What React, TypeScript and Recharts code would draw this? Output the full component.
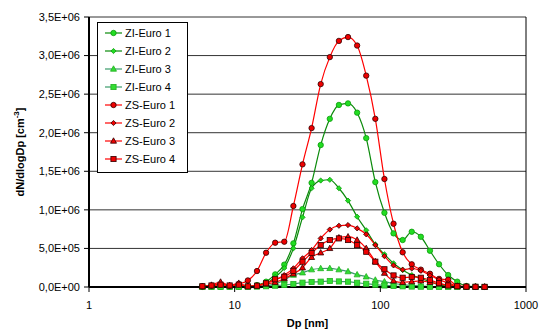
import React from "react";
import {
  LineChart,
  Line,
  XAxis,
  YAxis,
  CartesianGrid,
  Legend,
  ReferenceLine,
} from "recharts";

// particle diameter channels (nm), 16 per decade
const diameters = [
  6.0, 6.93, 8.0, 9.24, 10.67, 12.32, 14.23, 16.43, 18.97, 21.91, 25.3, 29.22,
  33.74, 38.96, 44.99, 51.96, 60.0, 69.29, 80.01, 92.39, 106.7, 123.2, 142.3,
  164.3, 189.7, 219.1, 253.0, 292.2, 337.4, 389.6, 449.9, 519.6,
];

const ziEuro1 = [
  2000, 3000, 3000, 4000, 5000, 8000, 25000, 69000, 164000, 290000, 566000,
  1010000, 1350000, 1840000, 2180000, 2360000, 2380000, 2260000, 1930000,
  1360000, 962000, 695000, 609000, 716000, 651000, 470000, 295000, 155000,
  69000, 12000, 4000, 2000,
];
const ziEuro2 = [
  1000, 2000, 2000, 3000, 4000, 6000, 18000, 45000, 130000, 246000, 501000,
  903000, 1280000, 1380000, 1390000, 1280000, 1120000, 911000, 735000, 553000,
  424000, 307000, 220000, 155000, 113000, 69000, 30000, 10000, 4000, 2000,
  1000, 1000,
];
const ziEuro3 = [
  0, 1000, 2000, 2000, 3000, 5000, 9000, 17000, 39000, 91000, 155000, 185000,
  225000, 240000, 242000, 225000, 200000, 160000, 133000, 91000, 69000, 45000,
  30000, 20000, 13000, 8000, 5000, 3000, 2000, 1000, 1000, 0,
];
const ziEuro4 = [
  1000, 1000, 2000, 2000, 2000, 3000, 5000, 10000, 17000, 26000, 39000, 56000,
  65000, 69000, 78000, 72000, 69000, 55000, 42000, 30000, 20000, 13000, 9000,
  6000, 4000, 3000, 2000, 2000, 1000, 1000, 1000, 0,
];
const zsEuro1 = [
  5000, 15000, 30000, 15000, 39000, 85000, 207000, 444000, 574000, 587000,
  1050000, 1590000, 2060000, 2630000, 2980000, 3190000, 3240000, 3130000,
  2740000, 2180000, 1400000, 820000, 450000, 294000, 225000, 172000, 105000,
  95000, 15000, 5000, 3000, 2000,
];
const zsEuro2 = [
  10000, 20000, 40000, 20000, 30000, 10000, 20000, 50000, 90000, 155000,
  242000, 372000, 479000, 630000, 745000, 794000, 803000, 760000, 683000,
  544000, 400000, 280000, 225000, 240000, 210000, 150000, 95000, 50000, 15000,
  5000, 3000, 2000,
];
const zsEuro3 = [
  10000, 25000, 65000, 20000, 50000, 10000, 15000, 40000, 60000, 110000,
  170000, 250000, 385000, 444000, 501000, 639000, 652000, 609000, 501000,
  330000, 180000, 80000, 60000, 70000, 80000, 60000, 40000, 20000, 8000, 4000,
  2000, 1000,
];
const zsEuro4 = [
  10000, 20000, 30000, 20000, 30000, 8000, 17000, 48000, 100000, 133000,
  210000, 328000, 440000, 544000, 609000, 630000, 609000, 544000, 457000,
  328000, 230000, 150000, 120000, 130000, 120000, 90000, 50000, 20000, 10000,
  5000, 3000, 2000,
];

const xTicks = [1, 10, 100, 1000];
const yTicks = [0, 500000, 1000000, 1500000, 2000000, 2500000, 3000000, 3500000];

type Shape = "circle" | "diamond" | "triangle" | "square";

const series = [
  { key: "zi1", name: "ZI-Euro 1", values: ziEuro1, line: "#0a8a0a", fill: "#22dd22", edge: "#0a9a0a", shape: "circle" as Shape },
  { key: "zi2", name: "ZI-Euro 2", values: ziEuro2, line: "#0a8a0a", fill: "#22dd22", edge: "#0a9a0a", shape: "diamond" as Shape },
  { key: "zi3", name: "ZI-Euro 3", values: ziEuro3, line: "#3a9a6a", fill: "#33dd33", edge: "#22b022", shape: "triangle" as Shape },
  { key: "zi4", name: "ZI-Euro 4", values: ziEuro4, line: "#3a9a6a", fill: "#33dd33", edge: "#22b022", shape: "square" as Shape },
  { key: "zs1", name: "ZS-Euro 1", values: zsEuro1, line: "#ff0000", fill: "#ee0000", edge: "#300000", shape: "circle" as Shape },
  { key: "zs2", name: "ZS-Euro 2", values: zsEuro2, line: "#ff0000", fill: "#ee0000", edge: "#300000", shape: "diamond" as Shape },
  { key: "zs3", name: "ZS-Euro 3", values: zsEuro3, line: "#ff0000", fill: "#ee0000", edge: "#300000", shape: "triangle" as Shape },
  { key: "zs4", name: "ZS-Euro 4", values: zsEuro4, line: "#ff0000", fill: "#ee0000", edge: "#300000", shape: "square" as Shape },
];

const data = diameters.map((d, i) => {
  const row: Record<string, number> = { d };
  series.forEach((s) => (row[s.key] = s.values[i]));
  return row;
});

const FONT = "'Liberation Sans', Arial, sans-serif";

function Marker({ cx, cy, shape, fill, edge }: { cx?: number; cy?: number; shape: Shape; fill: string; edge: string }) {
  if (cx == null || cy == null || isNaN(cx) || isNaN(cy)) return null;
  const common = { fill, stroke: edge, strokeWidth: 0.8 };
  switch (shape) {
    case "circle":
      return <circle cx={cx} cy={cy} r={2.7} {...common} />;
    case "diamond":
      return (
        <polygon
          points={`${cx},${cy - 2.6} ${cx + 2.6},${cy} ${cx},${cy + 2.6} ${cx - 2.6},${cy}`}
          {...common}
        />
      );
    case "triangle":
      return (
        <polygon
          points={`${cx},${cy - 3.2} ${cx + 3},${cy + 2.2} ${cx - 3},${cy + 2.2}`}
          {...common}
        />
      );
    default:
      return <rect x={cx - 2.6} y={cy - 2.6} width={5.2} height={5.2} {...common} />;
  }
}

// "3,5E+06" style, like the spreadsheet the chart came from
const sciFormat = (v: number) => {
  const [m, e] = v.toExponential(1).split("e");
  const exp = Math.abs(Number(e)).toString().padStart(2, "0");
  return `${m.replace(".", ",")}E${Number(e) < 0 ? "-" : "+"}${exp}`;
};

const renderLegend = () => (
  <div
    style={{
      boxSizing: "border-box",
      width: 91,
      height: 151,
      border: "1px solid #000",
      background: "#fff",
      paddingTop: 1,
      fontFamily: FONT,
      fontSize: 11,
      color: "#000",
    }}
  >
    {series.map((s) => (
      <div key={s.key} style={{ display: "flex", alignItems: "center", height: 18 }}>
        <svg width={27} height={10} style={{ display: "block" }}>
          <line x1={7} x2={24} y1={5} y2={5} stroke={s.line} strokeWidth={1.2} />
          <Marker cx={15.5} cy={5} shape={s.shape} fill={s.fill} edge={s.edge} />
        </svg>
        <span style={{ lineHeight: "18px", whiteSpace: "nowrap" }}>{s.name}</span>
      </div>
    ))}
  </div>
);

const YLabel = (props: any) => {
  const vb = props.viewBox || { x: 0, y: 17, width: 89, height: 270 };
  const cx = 20;
  const cy = vb.y + vb.height / 2;
  return (
    <text
      x={cx}
      y={cy}
      transform={`rotate(-90 ${cx} ${cy})`}
      textAnchor="middle"
      dominantBaseline="central"
      fontFamily={FONT}
      fontSize={11}
      fontWeight="bold"
      fill="#000"
    >
      dN/dlogDp [cm
      <tspan fontSize={8} dy={-4}>-3</tspan>
      <tspan dy={4}>]</tspan>
    </text>
  );
};

const XLabel = (props: any) => {
  const vb = props.viewBox || { x: 89, y: 287, width: 437, height: 44 };
  return (
    <text
      x={vb.x + vb.width / 2}
      y={vb.y + 40}
      textAnchor="middle"
      fontFamily={FONT}
      fontSize={11}
      fontWeight="bold"
      fill="#000"
    >
      Dp [nm]
    </text>
  );
};

export default function App() {
  return (
    <div style={{ position: "absolute", left: 0, top: 0, background: "#fff" }}>
      <LineChart
        width={540}
        height={331}
        data={data}
        margin={{ top: 17, right: 14, left: 0, bottom: 0 }}
      >
        <CartesianGrid vertical={false} stroke="#333" strokeWidth={1} />
        <XAxis
          dataKey="d"
          type="number"
          scale="log"
          domain={[1, 1000]}
          ticks={xTicks}
          allowDataOverflow
          height={44}
          tick={{ fill: "#000", fontSize: 11, fontFamily: FONT }}
          tickSize={5}
          tickMargin={9}
          axisLine={{ stroke: "#000", strokeWidth: 2 }}
          tickLine={{ stroke: "#000", strokeWidth: 1 }}
          label={{ content: XLabel }}
        />
        <YAxis
          type="number"
          domain={[0, 3500000]}
          ticks={yTicks}
          width={89}
          tickFormatter={sciFormat}
          tick={{ fill: "#000", fontSize: 11, fontFamily: FONT }}
          tickSize={5}
          tickMargin={4}
          axisLine={{ stroke: "#000", strokeWidth: 2 }}
          tickLine={{ stroke: "#000", strokeWidth: 1 }}
          label={{ content: YLabel }}
        />
        <ReferenceLine x={1000} stroke="#000" strokeWidth={1} />
        {series.map((s) => (
          <Line
            key={s.key}
            dataKey={s.key}
            name={s.name}
            type="monotone"
            stroke={s.line}
            strokeWidth={1.2}
            isAnimationActive={false}
            dot={(p: any) => (
              <Marker
                key={`${s.key}-${p.index}`}
                cx={p.cx}
                cy={p.cy}
                shape={s.shape}
                fill={s.fill}
                edge={s.edge}
              />
            )}
            activeDot={false}
          />
        ))}
        <Legend
          layout="vertical"
          align="center"
          verticalAlign="middle"
          content={renderLegend}
          wrapperStyle={{ left: 97, top: 22, width: 91, height: 151 }}
        />
      </LineChart>
    </div>
  );
}
